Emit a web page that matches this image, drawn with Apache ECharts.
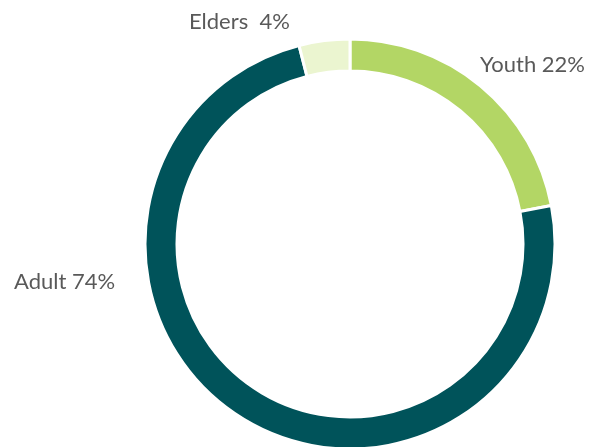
<!DOCTYPE html>
<html><head><meta charset="utf-8">
<script src="https://cdn.jsdelivr.net/npm/echarts@6/dist/echarts.min.js"></script>
<style>html,body{margin:0;padding:0;background:#fff}#c{width:591px;height:447px}</style>
</head><body><div id="c"></div>
<script>
const categories = ['Youth', 'Adult', 'Elders'];
const values = [22, 74, 4];
const colors = ['#b3d665', '#00535a', '#ebf5d0'];
const labelSpots = [[480, 65], [14, 282], [189, 22]];

const chart = echarts.init(document.getElementById('c'));
chart.setOption({
  animation: false,
  series: [{
    type: 'pie',
    center: [350, 244],
    radius: [173, 205],
    startAngle: 90,
    clockwise: true,
    data: categories.map((n, i) => ({ name: n, value: values[i], itemStyle: { color: colors[i] } })),
    itemStyle: { borderColor: '#fff', borderWidth: 3 },
    label: {
      show: true,
      position: 'outside',
      color: '#595959',
      fontFamily: 'Lato',
      fontSize: 22,
      overflow: 'none',
      width: 200,
      formatter: p => p.name + (p.name === 'Elders' ? '  ' : ' ') + p.value + '%'
    },
    labelLine: { show: false },
    labelLayout: p => ({ x: labelSpots[p.dataIndex][0], y: labelSpots[p.dataIndex][1], align: 'left', verticalAlign: 'middle', width: 200 }),
    emphasis: { disabled: true }
  }]
});
</script></body></html>
